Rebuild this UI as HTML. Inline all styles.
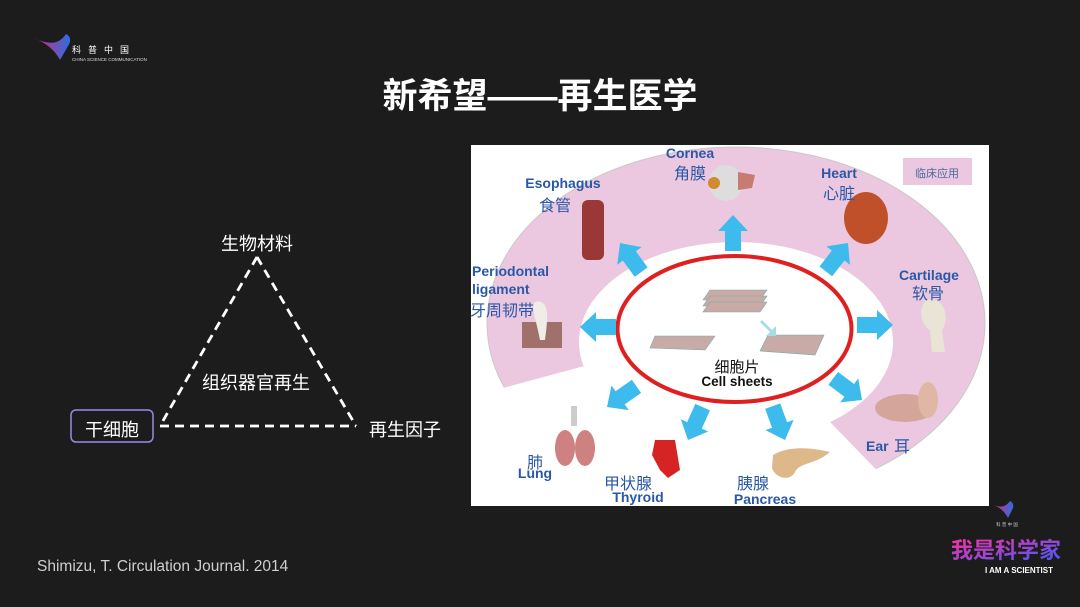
<!DOCTYPE html>
<html><head><meta charset="utf-8"><style>
html,body{margin:0;padding:0;background:#1c1c1c;}
body{width:1080px;height:607px;overflow:hidden;position:relative;font-family:"Liberation Sans","Noto Sans CJK SC",sans-serif;}
</style></head><body>
<svg width="1080" height="607" viewBox="0 0 1080 607" xmlns="http://www.w3.org/2000/svg" style="position:absolute;left:0;top:0;font-family:'Liberation Sans','Noto Sans CJK SC',sans-serif">
<defs>
<linearGradient id="lg" x1="0" x2="1"><stop offset="0" stop-color="#e0267a"/><stop offset="1" stop-color="#2a6fe0"/></linearGradient>
<linearGradient id="lg2" x1="0" x2="1" y1="0" y2="1"><stop offset="0" stop-color="#ff2fa0"/><stop offset="1" stop-color="#3a5cff"/></linearGradient>
<polygon id="ar" points="0,0 -16,-15 -16,-8 -36,-8 -36,8 -16,8 -16,15" fill="#3dbbec"/>
</defs>
<path d="M33,38 C45,42 55,50 60,60 L68,46 C72,40 70,36 66,34 C58,46 48,44 33,38Z" fill="url(#lg)"/>
<text x="72" y="53" fill="#fff" font-size="9" letter-spacing="7">科普中国</text>
<text x="72" y="61" fill="#ddd" font-size="4.5">CHINA SCIENCE COMMUNICATION</text>
<text x="540" y="108" fill="#fff" font-size="35" font-weight="bold" text-anchor="middle">新希望——再生医学</text>
<g stroke="#fff" stroke-width="2.8" stroke-dasharray="9,6" fill="none">
<line x1="257" y1="257" x2="160" y2="426"/><line x1="257" y1="257" x2="356" y2="426"/><line x1="160" y1="426" x2="356" y2="426"/>
</g>
<g fill="#fff" font-size="18">
<text x="257" y="250" text-anchor="middle">生物材料</text>
<text x="256" y="389" text-anchor="middle">组织器官再生</text>
<text x="112" y="436" text-anchor="middle">干细胞</text>
<text x="405" y="436" text-anchor="middle">再生因子</text>
</g>
<rect x="71" y="410" width="82" height="32" rx="5" fill="none" stroke="#9b88e6" stroke-width="1.5"/>
<text x="37" y="571" fill="#cfcfcf" font-size="15.5">Shimizu, T. Circulation Journal. 2014</text>
<rect x="471" y="145" width="518" height="361" fill="#fff"/>
<clipPath id="pc"><rect x="471" y="145" width="518" height="361"/></clipPath>
<g clip-path="url(#pc)">
<ellipse cx="736" cy="323" rx="249" ry="176" fill="#ebc8df" stroke="#c9c9c9" stroke-width="1"/>
<ellipse cx="736" cy="342" rx="157" ry="100" fill="#fff"/>
<polygon points="736,325 440,405 440,520 925,520" fill="#fff"/>
</g>
<rect x="903" y="158" width="69" height="27" fill="#ebc8df"/>
<text x="937" y="177" fill="#4a6a9a" font-size="11" text-anchor="middle">临床应用</text>
<ellipse cx="734.5" cy="329" rx="117" ry="73" fill="none" stroke="#e02020" stroke-width="4"/>
<g stroke="#7aa" stroke-width="0.6">
<polygon points="710,290 767,290 760,300 703,300" fill="#c9aaa5"/>
<polygon points="710,296 767,296 760,306 703,306" fill="#c9aaa5"/>
<polygon points="710,302 767,302 760,312 703,312" fill="#c9aaa5"/>
<polygon points="655,336 715,336 705,350 650,348" fill="#c8aaa6"/>
<polygon points="768,335 824,335 815,355 760,351" fill="#c8aaa6"/>
</g>
<polygon points="762,320 772,330 776,326 776,336 766,336 770,332 760,322" fill="#a8dce4"/>
<text x="737" y="372" fill="#111" font-size="15" text-anchor="middle">细胞片</text>
<text x="737" y="386" fill="#111" font-size="13.5" font-weight="bold" text-anchor="middle">Cell sheets</text>
<use href="#ar" transform="translate(733,215) rotate(-90)"/>
<use href="#ar" transform="translate(620,243) rotate(-126)"/>
<use href="#ar" transform="translate(848,243) rotate(-52)"/>
<use href="#ar" transform="translate(580,327) rotate(180)"/>
<use href="#ar" transform="translate(893,325)"/>
<use href="#ar" transform="translate(862,400) rotate(37)"/>
<use href="#ar" transform="translate(607,407) rotate(145)"/>
<use href="#ar" transform="translate(688,440) rotate(114)"/>
<use href="#ar" transform="translate(785,440) rotate(70)"/>
<ellipse cx="726" cy="183" rx="17" ry="18" fill="#ddd"/><circle cx="714" cy="183" r="6" fill="#d08a30"/><path d="M738,172 L755,175 L752,188 L738,190Z" fill="#c87b70"/>
<rect x="582" y="200" width="22" height="60" rx="6" fill="#9a3838"/>
<ellipse cx="866" cy="218" rx="22" ry="26" fill="#c0502a"/>
<path d="M927,300 C945,295 950,320 942,330 L945,352 L932,352 L930,330 C920,325 918,305 927,300Z" fill="#e8e4d6"/>
<ellipse cx="905" cy="408" rx="30" ry="14" fill="#d4a59a"/><ellipse cx="928" cy="400" rx="10" ry="18" fill="#e0b6a5"/>
<path d="M773,455 C790,445 812,448 830,452 C815,465 800,462 795,472 C790,482 775,478 772,468Z" fill="#ddb88a"/>
<path d="M655,440 L675,440 L680,470 L668,478 L660,470 L652,455Z" fill="#d62424"/>
<rect x="571" y="406" width="6" height="20" fill="#ccc"/><ellipse cx="565" cy="448" rx="10" ry="18" fill="#cf8080"/><ellipse cx="585" cy="448" rx="10" ry="18" fill="#cf8080"/>
<path d="M522,322 L562,322 L562,348 L522,348Z" fill="#a0706a"/><path d="M535,302 C550,298 548,318 545,340 L540,340 C536,318 530,306 535,302Z" fill="#f0ece6"/>
<g fill="#2a58a6" font-weight="bold" font-size="14">
<text x="690" y="158" text-anchor="middle">Cornea</text>
<text x="563" y="188" text-anchor="middle">Esophagus</text>
<text x="839" y="178" text-anchor="middle">Heart</text>
<text x="929" y="280" text-anchor="middle">Cartilage</text>
<text x="472" y="276">Periodontal</text>
<text x="472" y="294">ligament</text>
<text x="866" y="451">Ear</text>
<text x="535" y="478" text-anchor="middle">Lung</text>
<text x="638" y="502" text-anchor="middle">Thyroid</text>
<text x="765" y="504" text-anchor="middle">Pancreas</text>
</g>
<g fill="#2a58a6" font-size="16">
<text x="690" y="179" text-anchor="middle">角膜</text>
<text x="555" y="211" text-anchor="middle">食管</text>
<text x="839" y="199" text-anchor="middle">心脏</text>
<text x="928" y="299" text-anchor="middle">软骨</text>
<text x="470" y="316">牙周韧带</text>
<text x="894" y="452">耳</text>
<text x="535" y="468" text-anchor="middle">肺</text>
<text x="628" y="489" text-anchor="middle">甲状腺</text>
<text x="753" y="489" text-anchor="middle">胰腺</text>
</g>
<path d="M993,505 C1000,507 1005,512 1008,518 L1013,508 C1014,504 1012,502 1010,501 C1005,508 1000,507 993,505Z" fill="url(#lg)"/>
<text x="1007" y="526" fill="#ccc" font-size="4.5" text-anchor="middle">科 普 中 国</text>
<text x="1006" y="558" fill="url(#lg2)" font-size="22" font-weight="bold" text-anchor="middle">我是科学家</text>
<text x="1019" y="573" fill="#fff" font-size="8" font-weight="bold" text-anchor="middle">I AM A SCIENTIST</text>
</svg>
</body></html>
